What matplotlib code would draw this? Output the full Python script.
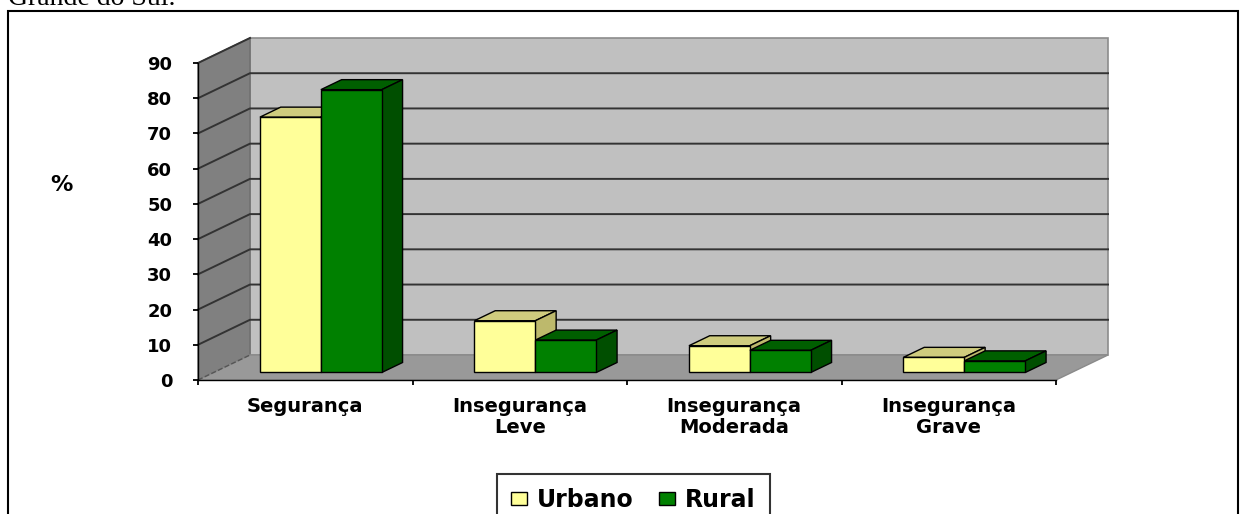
import numpy as np
import matplotlib
matplotlib.use("Agg")
import matplotlib.pyplot as plt
from matplotlib.patches import Polygon, Patch, Rectangle

categories = ["Segurança", "Insegurança\nLeve", "Insegurança\nModerada", "Insegurança\nGrave"]
urbano = [72.5, 14.7, 7.6, 4.3]
rural = [80.3, 9.2, 6.3, 3.3]
series_names = ["Urbano", "Rural"]
yticks = [0, 10, 20, 30, 40, 50, 60, 70, 80, 90]

# face colours: front, top, side
face_cols = [("#ffff99", "#cfcc7e", "#bdb96c"), ("#008000", "#005f00", "#004f00")]

plt.rcParams["font.family"] = "DejaVu Sans"
plt.rcParams["font.weight"] = "bold"

fig = plt.figure(figsize=(12.41, 5.14), dpi=100)
ax = fig.add_axes([198 / 1241, 134 / 514, 858 / 1241, 317 / 514])
n = len(categories)
ymax = yticks[-1]
ax.set_xlim(0, n)
ax.set_ylim(0, ymax)
ax.patch.set_visible(False)

# depth of the 3d box in data units
dx, dy = 0.2424, 7.1

back = Polygon([(dx, dy), (n + dx, dy), (n + dx, ymax + dy), (dx, ymax + dy)],
               fc="#c0c0c0", ec="#8c8c8c", lw=1.2, clip_on=False, zorder=0)
left = Polygon([(0, 0), (dx, dy), (dx, ymax + dy), (0, ymax)],
               fc="#808080", ec="#6e6e6e", lw=1, clip_on=False, zorder=0)
floor = Polygon([(0, 0), (n, 0), (n + dx, dy), (dx, dy)],
                fc="#999999", ec="#8a8a8a", lw=1, clip_on=False, zorder=0)
for p in (back, left, floor):
    ax.add_patch(p)

for v in yticks:
    if v == 0:
        ax.plot([0, dx], [0, dy], color="#555555", lw=1, ls="--", clip_on=False, zorder=1)
    elif v == ymax:
        ax.plot([0, dx], [v, v + dy], color="#333333", lw=1.4, clip_on=False, zorder=1)
    else:
        ax.plot([0, dx, n + dx], [v, v + dy, v + dy], color="#333333", lw=1.4,
                clip_on=False, zorder=1)

# bars
w = 0.284
gap = 1 - 2 * w
f0, f1 = 0.3, 0.7
z = 3
for i in range(n):
    for s, vals in enumerate([urbano, rural]):
        v = vals[i]
        front, top, side = face_cols[s]
        x0 = i + gap / 2 + s * w + f0 * dx
        x1 = x0 + w
        b = f0 * dy
        ddx, ddy = (f1 - f0) * dx, (f1 - f0) * dy
        ax.add_patch(Polygon([(x0, v + b), (x1, v + b), (x1 + ddx, v + b + ddy), (x0 + ddx, v + b + ddy)],
                             fc=top, ec="black", lw=1, clip_on=False, zorder=z))
        ax.add_patch(Polygon([(x1, b), (x1, v + b), (x1 + ddx, v + b + ddy), (x1 + ddx, b + ddy)],
                             fc=side, ec="black", lw=1, clip_on=False, zorder=z))
        ax.bar(x0, v, width=w, bottom=b, align="edge", color=front, edgecolor="black",
               lw=1, clip_on=False, zorder=z + 0.5)
        z += 1

for sp in ("top", "right"):
    ax.spines[sp].set_visible(False)
for sp in ("left", "bottom"):
    ax.spines[sp].set_color("black")
    ax.spines[sp].set_linewidth(1)

ax.set_yticks(yticks)
ax.set_yticklabels([str(t) for t in yticks])
ax.tick_params(axis="y", direction="out", length=3.6, width=1.3, pad=15, labelsize=13)
ax.set_xticks(range(n + 1))
ax.set_xticklabels([])
ax.set_xticks(np.arange(n) + 0.5, minor=True)
ax.set_xticklabels(categories, minor=True, linespacing=1.15)
ax.tick_params(axis="x", which="major", direction="out", length=3.6, width=1.3)
ax.tick_params(axis="x", which="minor", length=0, pad=12, labelsize=14)

fig.text(61 / 1241, 1 - 185 / 514, "%", ha="center", va="center", fontsize=16, weight="bold")

handles = [Patch(fc=face_cols[k][0], ec="black", lw=1, label=series_names[k]) for k in range(2)]
fig.legend(handles=handles, loc="upper center", bbox_to_anchor=(0.5105, 1 - 474 / 514),
           bbox_transform=fig.transFigure, ncol=2, fontsize=17, frameon=True, fancybox=False,
           edgecolor="black", handlelength=0.68, handleheight=0.45, handletextpad=0.42,
           columnspacing=1.06, borderpad=0.6, borderaxespad=0).get_frame().set_linewidth(1.5)

# page frame and cut-off caption
fig.patches.append(Rectangle((8 / 1241, -0.05), (1238 - 8) / 1241, 1.05 - 11 / 514,
                             transform=fig.transFigure, fill=False, ec="black", lw=1.5))
fig.text(8 / 1241, 1 - 5 / 514, "Grande do Sul.", family="Liberation Serif", fontsize=20,
         weight="normal", va="baseline", ha="left")

fig.savefig("out.png", dpi=100)
